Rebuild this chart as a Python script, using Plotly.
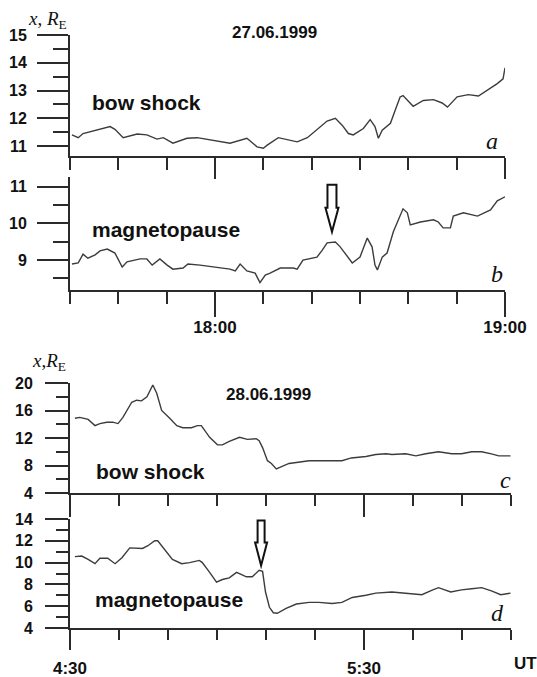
import plotly.graph_objects as go

# ---------------- data ----------------
# 27.06.1999, minutes after 17:30 UT
t_a = [0.4, 1.7, 2.7, 6.2, 8.3, 9.3, 11.0, 13.9, 15.9, 18.0, 19.3, 21.3, 24.2, 26.3, 29.6, 33.1, 36.6, 38.7, 40.0, 40.8,
       43.1, 47.0, 49.1, 51.8, 53.2, 54.9, 56.3, 57.6, 58.6, 60.7, 62.1, 63.1, 63.8, 64.6, 66.3, 67.3, 68.3, 68.9, 71.0, 73.1,
       75.2, 77.0, 78.1, 80.1, 82.4, 84.5, 86.3, 88.4, 89.6, 90.0]
bow_shock_27 = [11.4, 11.3, 11.45, 11.6, 11.7, 11.6, 11.3, 11.43, 11.4, 11.25, 11.3, 11.1, 11.28, 11.3, 11.2, 11.1, 11.28, 10.97, 10.92, 11.03,
                11.3, 11.15, 11.3, 11.7, 11.9, 12.0, 11.75, 11.45, 11.4, 11.63, 11.95, 11.7, 11.28, 11.57, 11.82, 12.3, 12.77, 12.82, 12.43, 12.64,
                12.67, 12.55, 12.4, 12.77, 12.85, 12.8, 13.0, 13.25, 13.42, 13.82]

t_b = [0.4, 1.7, 2.7, 3.7, 5.2, 6.2, 7.7, 9.3, 10.8, 11.8, 14.5, 15.9, 17.0, 18.6, 20.1, 21.3, 23.4, 24.4, 26.9, 29.6,
       33.1, 34.2, 35.2, 36.6, 38.3, 39.3, 40.4, 41.4, 43.5, 46.2, 47.0, 48.2, 51.1, 52.2, 53.2, 54.9, 55.9, 58.4, 60.0, 61.5,
       62.5, 63.1, 63.6, 64.6, 65.6, 66.9, 68.3, 68.9, 69.8, 70.4, 72.5, 75.2, 76.2, 77.2, 78.7, 79.3, 81.4, 84.3, 87.0, 88.4, 90.0]
magnetopause_27 = [8.89, 8.92, 9.16, 9.05, 9.14, 9.25, 9.3, 9.19, 8.81, 8.95, 9.03, 9.03, 8.86, 9.03, 8.86, 8.75, 8.78, 8.89, 8.86, 8.81,
                   8.75, 8.70, 8.89, 8.70, 8.64, 8.38, 8.59, 8.64, 8.78, 8.78, 8.75, 9.0, 9.08, 9.27, 9.47, 9.49, 9.36, 8.92, 9.08, 9.6,
                   9.36, 8.86, 8.73, 9.08, 9.19, 9.77, 10.23, 10.4, 10.29, 9.96, 10.04, 10.1, 10.04, 9.88, 9.88, 10.2, 10.29, 10.2, 10.37, 10.62, 10.73]

# 28.06.1999, minutes after 4:30 UT
t_c = [1.0, 2.0, 3.7, 5.1, 6.1, 7.5, 8.7, 9.8, 10.8, 12.6, 13.6, 14.6, 15.7, 16.9, 17.7, 18.7, 20.3, 21.8, 23.0, 24.8,
       26.0, 26.8, 28.5, 30.1, 31.1, 32.5, 34.6, 36.2, 38.0, 38.6, 39.3, 40.3, 41.1, 42.1, 44.7, 48.8, 55.5, 57.4, 60.4, 62.4,
       64.5, 65.7, 68.5, 70.6, 72.6, 75.2, 77.9, 79.9, 82.0, 84.0, 86.0, 87.5, 89.9]
bow_shock_28 = [14.87, 15.0, 14.7, 13.8, 14.1, 14.3, 14.3, 14.1, 15.0, 17.2, 17.5, 17.4, 18.0, 19.7, 18.5, 16.0, 14.9, 13.8, 13.5, 13.5,
                13.8, 13.8, 12.1, 11.0, 11.0, 11.5, 12.1, 11.8, 11.9, 11.6, 10.6, 8.7, 8.3, 7.5, 8.3, 8.7, 8.7, 9.1, 9.3, 9.6,
                9.7, 9.6, 9.7, 9.4, 9.7, 10.0, 9.7, 9.7, 10.0, 10.0, 9.7, 9.4, 9.4]

t_d = [1.0, 2.4, 3.7, 5.1, 6.1, 7.7, 9.2, 10.6, 12.2, 13.6, 14.8, 15.9, 17.3, 17.9, 18.9, 20.9, 22.8, 24.4, 26.4, 27.0,
       28.5, 29.9, 31.1, 32.5, 34.0, 36.0, 37.2, 38.6, 39.3, 39.9, 40.7, 41.5, 42.3, 44.1, 46.2, 48.8, 50.8, 53.5, 55.5, 57.6,
       60.4, 62.4, 65.7, 68.5, 71.8, 73.8, 75.2, 77.7, 79.9, 82.0, 84.0, 86.0, 87.9, 89.9]
magnetopause_28 = [10.55, 10.6, 10.3, 9.9, 10.4, 10.4, 9.9, 10.45, 11.35, 11.35, 11.3, 11.55, 12.0, 12.0, 11.4, 10.3, 9.9, 10.0, 10.2, 10.0,
                   9.1, 8.2, 8.45, 8.6, 9.1, 8.7, 8.7, 9.3, 9.2, 7.3, 5.9, 5.4, 5.35, 5.8, 6.2, 6.35, 6.35, 6.25, 6.35, 6.8,
                   7.0, 7.2, 7.3, 7.2, 7.05, 7.45, 7.7, 7.3, 7.5, 7.6, 7.7, 7.4, 7.05, 7.2]

# tick labels
ticks_27_vals = [30, 90]
ticks_27_text = ["18:00", "19:00"]
ticks_28_vals = [0, 60]
ticks_28_text = ["4:30", "5:30"]
minor_ticks = [0, 10, 20, 30, 40, 50, 60, 70, 80, 90]

# arrows (time in minutes, tip value)
arrow_b = (54.2, 9.77)
arrow_d = (39.0, 9.73)

# ---------------- figure ----------------
W, H = 537, 677
def px(x):
    return x / W
def py(y):
    return 1 - y / H

INK = "#2b2b2b"
LINE = "#3c3c3c"
SANS = "Liberation Sans, Arial, sans-serif"
SERIF = "Liberation Serif, Times New Roman, serif"

fig = go.Figure()
fig.add_trace(go.Scatter(x=t_a, y=bow_shock_27, mode="lines", line=dict(color=LINE, width=1.4), xaxis="x", yaxis="y"))
fig.add_trace(go.Scatter(x=t_b, y=magnetopause_27, mode="lines", line=dict(color=LINE, width=1.4), xaxis="x2", yaxis="y2"))
fig.add_trace(go.Scatter(x=t_c, y=bow_shock_28, mode="lines", line=dict(color=LINE, width=1.4), xaxis="x3", yaxis="y3"))
fig.add_trace(go.Scatter(x=t_d, y=magnetopause_28, mode="lines", line=dict(color=LINE, width=1.4), xaxis="x4", yaxis="y4"))

def xaxis(dom, vals, text, show, majlen, minlen, anchor, standoff=0):
    return dict(domain=dom, range=[0, 90], anchor=anchor, showline=True, linecolor=INK, linewidth=2,
                showgrid=False, zeroline=False, ticks="outside", tickmode="array", tickvals=vals,
                ticktext=text, showticklabels=show, ticklen=majlen, tickwidth=2, tickcolor=INK,
                ticklabelstandoff=standoff, automargin=False,
                tickfont=dict(family=SANS, size=17, color="#111", weight="bold"),
                minor=dict(ticks="outside", tickmode="array", tickvals=minor_ticks, ticklen=minlen,
                           tickwidth=2, tickcolor=INK, showgrid=False),
                fixedrange=True)

def yaxis(dom, rng, tick0, dtick, mdtick, majlen, minlen, anchor, standoff):
    return dict(domain=dom, range=rng, anchor=anchor, showline=True, linecolor=INK, linewidth=2,
                showgrid=False, zeroline=False, ticks="outside", tickmode="linear", tick0=tick0, dtick=dtick,
                ticklen=majlen, tickwidth=2, tickcolor=INK, ticklabelstandoff=standoff, automargin=False,
                tickfont=dict(family=SANS, size=16, color="#111", weight="bold"),
                minor=dict(ticks="outside", tick0=tick0, dtick=mdtick, ticklen=minlen, tickwidth=2,
                           tickcolor=INK, showgrid=False),
                fixedrange=True)

xd_27 = [px(70), px(505)]
xd_28 = [px(70), px(511)]

fig.update_layout(
    width=W, height=H, margin=dict(l=0, r=0, t=0, b=0, pad=0, autoexpand=False),
    paper_bgcolor="white", plot_bgcolor="white", showlegend=False,
    xaxis=xaxis(xd_27, ticks_27_vals, ticks_27_text, False, 21, 12, "y"),
    xaxis2=xaxis(xd_27, ticks_27_vals, ticks_27_text, True, 25, 12, "y2", -4),
    xaxis3=xaxis(xd_28, ticks_28_vals, ticks_28_text, False, 22, 11, "y3"),
    xaxis4=xaxis(xd_28, ticks_28_vals, ticks_28_text, True, 20, 10, "y4", 4),
    yaxis=yaxis([py(156), py(35)], [10.64, 15], 11, 1, 0.5, 31, 15, "x", 7),
    yaxis2=yaxis([py(290), py(177)], [8.18, 11.27], 9, 1, 0.5, 31, 15, "x2", 7),
    yaxis3=yaxis([py(493), py(383)], [4, 20], 4, 4, 2, 23, 12, "x3", 9),
    yaxis4=yaxis([py(628), py(519)], [4, 14], 4, 2, 1, 23, 12, "x4", 9),
)

def arrow_path(head_h, total_h, head_w, shaft_w):
    hw, sw = head_w / 2, shaft_w / 2
    return (f"M0,0 L{-hw},{head_h} L{-sw},{head_h} L{-sw},{total_h} "
            f"L{sw},{total_h} L{sw},{head_h} L{hw},{head_h} Z")

fig.add_shape(type="path", xref="x2", yref="y2", xsizemode="pixel", ysizemode="pixel",
              xanchor=arrow_b[0], yanchor=arrow_b[1], path=arrow_path(24, 47, 13, 9),
              line=dict(color="#111", width=2), fillcolor="white")
fig.add_shape(type="path", xref="x4", yref="y4", xsizemode="pixel", ysizemode="pixel",
              xanchor=arrow_d[0], yanchor=arrow_d[1], path=arrow_path(23, 45, 12, 7),
              line=dict(color="#111", width=2), fillcolor="white")

def label(text, x, y, size, family=SANS, xanchor="left", color="#111"):
    fig.add_annotation(text=text, x=px(x), y=py(y), xref="paper", yref="paper", showarrow=False,
                       xanchor=xanchor, yanchor="middle", borderpad=0,
                       font=dict(family=family, size=size, color=color))

label("<i>x</i>, <i>R</i><sub>E</sub>", 27, 20, 19, SERIF)
label("<i>x</i>,<i>R</i><sub>E</sub>", 31, 362, 19, SERIF)
label("<b>27.06.1999</b>", 274, 33, 17, xanchor="center")
label("<b>28.06.1999</b>", 268, 395, 17, xanchor="center")
label("<b>bow shock</b>", 91, 102, 21)
label("<b>magnetopause</b>", 91, 229, 21)
label("<b>bow shock</b>", 95, 471, 21)
label("<b>magnetopause</b>", 94, 599, 21)
label("<i>a</i>", 492, 141, 24, SERIF, "center")
label("<i>b</i>", 497, 274, 24, SERIF, "center")
label("<i>c</i>", 505, 480, 24, SERIF, "center")
label("<i>d</i>", 497, 613, 24, SERIF, "center")
label("<b>UT</b>", 525, 663, 17, xanchor="center")

fig.write_html("out.html")
